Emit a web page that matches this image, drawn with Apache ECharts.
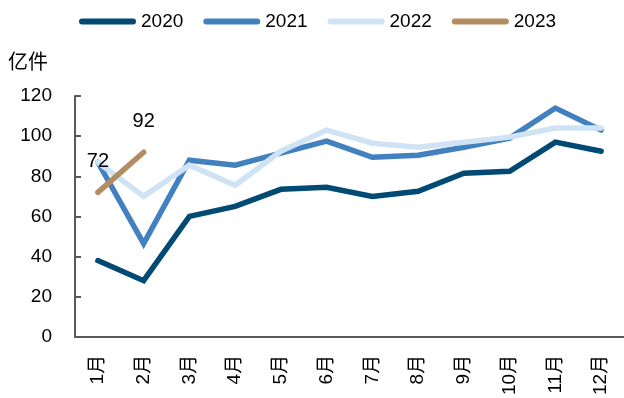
<!DOCTYPE html>
<html>
<head>
<meta charset="utf-8">
<script src="https://cdn.jsdelivr.net/npm/echarts@6/dist/echarts.min.js"></script>
<style>
  html, body { margin: 0; padding: 0; background: #fff; }
  #chart { width: 624px; height: 398px; }
</style>
</head>
<body>
<div id="chart"></div>
<script>
// Monthly volume (亿件), by year
const months = ['1月', '2月', '3月', '4月', '5月', '6月', '7月', '8月', '9月', '10月', '11月', '12月'];
const v2020 = [38, 28, 60, 65, 73.5, 74.5, 70, 72.5, 81.5, 82.5, 97, 92.5];
const v2021 = [87, 46.5, 88, 85.5, 91.5, 97.5, 89.5, 90.5, 94.5, 99, 114, 103];
const v2022 = [87, 70, 85.5, 75.5, 92.5, 103, 96.5, 94.5, 97, 99.5, 104, 104];
const v2023 = [72, 92];
const yTicks = { min: 0, max: 120, interval: 20 };

const FONT = '"Liberation Sans", Arial, "Noto Sans CJK SC", sans-serif';
const AXIS_COLOR = '#595959';

const seriesDefs = [
  { name: '2020', data: v2020, color: '#004a73' },
  { name: '2021', data: v2021, color: '#4281c0' },
  { name: '2022', data: v2022, color: '#d0e3f4' },
  { name: '2023', data: v2023, color: '#b48c62', labels: true }
];

const chart = echarts.init(document.getElementById('chart'), null, { renderer: 'canvas' });

chart.setOption({
  animation: false,
  backgroundColor: '#fff',
  textStyle: { fontFamily: FONT, color: '#000' },
  legend: {
    left: 74,
    top: 7,
    itemWidth: 57,
    itemHeight: 6,
    itemGap: 20,
    icon: 'path://M3,0 L54,0 A3,3 0 0 1 54,6 L3,6 A3,3 0 0 1 3,0 Z',
    textStyle: { fontSize: 19, color: '#000', fontFamily: FONT },
    data: seriesDefs.map(s => s.name)
  },
  grid: { left: 75, top: 96, width: 552, height: 243, containLabel: false },
  xAxis: {
    type: 'category',
    data: months,
    boundaryGap: true,
    axisLine: { lineStyle: { color: AXIS_COLOR, width: 2 } },
    axisTick: { inside: true, length: 6, lineStyle: { color: AXIS_COLOR, width: 2 } },
    axisLabel: { rotate: 90, margin: 18, fontSize: 19, color: '#000', fontFamily: FONT, interval: 0 },
    splitLine: { show: false }
  },
  yAxis: {
    type: 'value',
    min: yTicks.min,
    max: yTicks.max,
    interval: yTicks.interval,
    name: '亿件',
    nameLocation: 'end',
    nameGap: 23,
    nameTextStyle: { fontSize: 20, color: '#000', fontFamily: FONT, padding: [0, 94, 0, 0] },
    axisLine: { show: true, lineStyle: { color: AXIS_COLOR, width: 2 } },
    axisTick: { show: true, inside: true, length: 6, lineStyle: { color: AXIS_COLOR, width: 2 } },
    axisLabel: { margin: 23, fontSize: 19, color: '#000', fontFamily: FONT },
    splitLine: { show: false }
  },
  series: seriesDefs.map(s => ({
    name: s.name,
    type: 'line',
    data: s.data,
    symbol: 'circle',
    symbolSize: 0,
    showSymbol: !!s.labels,
    color: s.color,
    lineStyle: { color: s.color, width: 5.5, cap: 'round', join: 'miter' },
    label: s.labels ? {
      show: true,
      position: 'top',
      distance: 21,
      fontSize: 20,
      color: '#000',
      fontFamily: FONT,
      formatter: '{c}'
    } : { show: false },
    z: 2
  }))
});
</script>
</body>
</html>
